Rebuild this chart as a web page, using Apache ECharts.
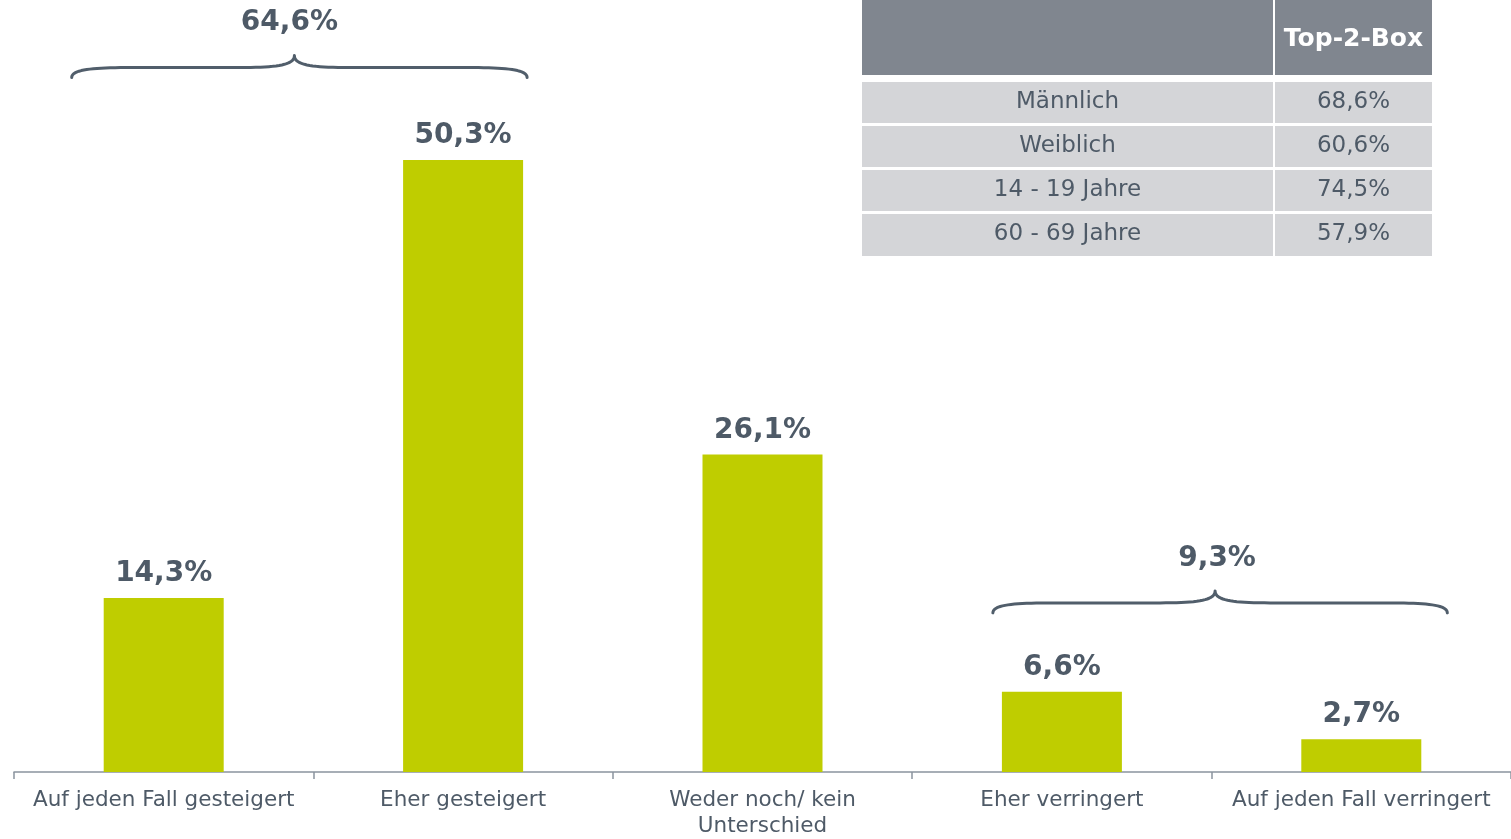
<!DOCTYPE html>
<html><head><meta charset="utf-8">
<script src="https://cdn.jsdelivr.net/npm/echarts@6/dist/echarts.min.js"></script>
<style>html,body{margin:0;padding:0;background:#fff}#c{width:1511px;height:839px}</style>
</head><body><div id="c"></div>
<script>
const categories = ['Auf jeden Fall gesteigert', 'Eher gesteigert', 'Weder noch/ kein\nUnterschied', 'Eher verringert', 'Auf jeden Fall verringert'];
const values = [14.3, 50.3, 26.1, 6.6, 2.7];
const groupLabels = ['64,6%', '9,3%'];
const tableRows = ['Männlich', 'Weiblich', '14 - 19 Jahre', '60 - 69 Jahre'];
const tableValues = ['68,6%', '60,6%', '74,5%', '57,9%'];
const tableHeader = 'Top-2-Box';

const FONT = '"DejaVu Sans", Verdana, sans-serif';
const TXT = '#4e5a67';
const chart = echarts.init(document.getElementById('c'));
chart.setOption({
  animation: false,
  grid: { left: 14, right: 0, top: 42, bottom: 60 },
  xAxis: {
    type: 'category', data: categories,
    axisLine: { lineStyle: { color: '#8a949e', width: 1.5 } },
    axisTick: { show: true, length: 7, lineStyle: { color: '#8a949e', width: 1.5 } },
    axisLabel: { color: TXT, fontFamily: FONT, fontSize: 21.5, margin: 15, lineHeight: 26, interval: 0 }
  },
  yAxis: { type: 'value', min: 0, max: 60, show: false, splitLine: { show: false } },
  series: [{
    type: 'bar', data: values, barWidth: 120,
    itemStyle: { color: '#bfcd00' },
    label: {
      show: true, position: 'top', distance: 10,
      color: TXT, fontFamily: FONT, fontWeight: 'bold', fontSize: 28,
      formatter: p => p.value.toFixed(1).replace('.', ',') + '%'
    }
  }]
});

function cubic(a, b, c, d, n, out) {
  for (let k = 0; k <= n; k++) {
    const t = k / n, u = 1 - t;
    out.push([
      u * u * u * a[0] + 3 * u * u * t * b[0] + 3 * u * t * t * c[0] + t * t * t * d[0],
      u * u * u * a[1] + 3 * u * u * t * b[1] + 3 * u * t * t * c[1] + t * t * t * d[1]
    ]);
  }
}
function braceGroup(x1, x2, ym, label, labelY, labelDx) {
  const xt = (x1 + x2) / 2 - 5;
  const pts = [];
  cubic([x1, ym + 10], [x1, ym + 2], [x1 + 20, ym], [x1 + 60, ym], 20, pts);
  cubic([xt - 55, ym], [xt - 15, ym], [xt, ym - 3], [xt, ym - 12], 20, pts);
  cubic([xt, ym - 12], [xt, ym - 3], [xt + 15, ym], [xt + 55, ym], 20, pts);
  cubic([x2 - 60, ym], [x2 - 20, ym], [x2, ym + 2], [x2, ym + 10], 20, pts);
  return [
    { type: 'polyline', shape: { points: pts }, style: { fill: null, stroke: '#515e6b', lineWidth: 3, lineCap: 'round', lineJoin: 'round' } },
    { type: 'text', x: xt + labelDx, y: labelY, style: { text: label, fill: TXT, font: `bold 28px ${FONT}`, align: 'center', verticalAlign: 'middle' } }
  ];
}

const px = (i, v) => chart.convertToPixel({ seriesIndex: 0 }, [i, v]);
const g = [];
const c0 = px(0, 0)[0], c1 = px(1, 0)[0], c3 = px(3, 0)[0], c4 = px(4, 0)[0];
g.push(...braceGroup(c0 - 92, c1 + 64, px(0, 57.9)[1], groupLabels[0], px(0, 61.6)[1], -5));
g.push(...braceGroup(c3 - 69, c4 + 86, px(0, 13.9)[1], groupLabels[1], px(0, 17.5)[1], 2));

// table
const tx0 = 862, tx1 = 1273, tx2 = 1275, tx3 = 1432;
g.push({ type: 'rect', shape: { x: tx0, y: 0, width: tx1 - tx0, height: 75 }, style: { fill: '#80868f' } });
g.push({ type: 'rect', shape: { x: tx2, y: 0, width: tx3 - tx2, height: 75 }, style: { fill: '#80868f' } });
g.push({ type: 'text', x: (tx2 + tx3) / 2, y: 39, style: { text: tableHeader, fill: '#fff', font: `bold 25px ${FONT}`, align: 'center', verticalAlign: 'middle' } });
const rowTops = [82, 126, 170, 214];
const rowH = 41;
tableRows.forEach((r, i) => {
  const y = rowTops[i], h = rowH + (i === 3 ? 1 : 0);
  g.push({ type: 'rect', shape: { x: tx0, y, width: tx1 - tx0, height: h }, style: { fill: '#d4d5d8' } });
  g.push({ type: 'rect', shape: { x: tx2, y, width: tx3 - tx2, height: h }, style: { fill: '#d4d5d8' } });
  g.push({ type: 'text', x: (tx0 + tx1) / 2, y: y + rowH / 2, style: { text: r, fill: TXT, font: `23px ${FONT}`, align: 'center', verticalAlign: 'middle' } });
  g.push({ type: 'text', x: (tx2 + tx3) / 2, y: y + rowH / 2, style: { text: tableValues[i], fill: TXT, font: `23px ${FONT}`, align: 'center', verticalAlign: 'middle' } });
});
chart.setOption({ graphic: g });
</script></body></html>
